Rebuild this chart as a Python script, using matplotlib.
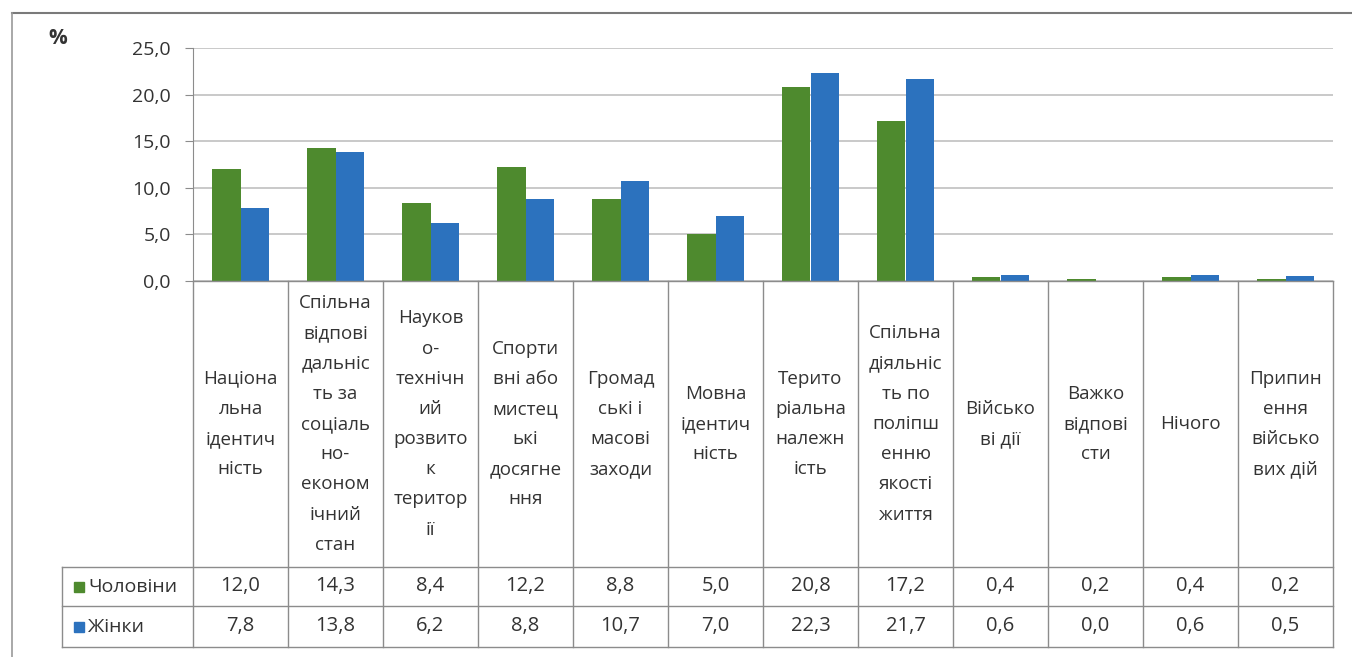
import matplotlib.pyplot as plt
from matplotlib.patches import Rectangle

plt.rcParams['font.family'] = ['Open Sans', 'DejaVu Sans']

categories = [
    "Націона\nльна\nідентич\nність",
    "Спільна\nвідпові\nдальніс\nть за\nсоціаль\nно-\nеконом\nічний\nстан",
    "Науков\nо-\nтехнічн\nий\nрозвито\nк\nтеритор\nії",
    "Спорти\nвні або\nмистец\nькі\nдосягне\nння",
    "Громад\nські і\nмасові\nзаходи",
    "Мовна\nідентич\nність",
    "Терито\nріальна\nналежн\nість",
    "Спільна\nдіяльніс\nть по\nполіпш\nенню\nякості\nжиття",
    "Військо\nві дії",
    "Важко\nвідпові\nсти",
    "Нічого",
    "Припин\nення\nвійсько\nвих дій",
]
men = [12.0, 14.3, 8.4, 12.2, 8.8, 5.0, 20.8, 17.2, 0.4, 0.2, 0.4, 0.2]
women = [7.8, 13.8, 6.2, 8.8, 10.7, 7.0, 22.3, 21.7, 0.6, 0.0, 0.6, 0.5]
series_names = ["Чоловіни", "Жінки"]
yticks = [0, 5, 10, 15, 20, 25]

GREEN = "#4e8a2e"
BLUE = "#2c72be"
GRID = "#c0c0c0"
LINE = "#8c8c8c"
TXT = "#333333"

W, H = 1352, 657
fig = plt.figure(figsize=(W / 100, H / 100), dpi=100)


def fx(px):
    return px / W


def fy(py):
    return 1 - py / H


def fmt(v):
    return f"{v:.1f}".replace(".", ",")


# plot area in pixel coordinates
x0, x1 = 193, 1333
y_top, y_zero = 48, 281
ax = fig.add_axes([fx(x0), fy(y_zero), fx(x1) - fx(x0), fy(y_top) - fy(y_zero)])
n = len(categories)
xs = list(range(n))
bw = 0.3
ax.bar([x - bw / 2 for x in xs], men, width=bw, color=GREEN, zorder=3)
ax.bar([x + bw / 2 for x in xs], women, width=bw, color=BLUE, zorder=3)
ax.set_xlim(-0.5, n - 0.5)
ax.set_ylim(0, 25)
ax.set_yticks(yticks)
ax.set_yticklabels([fmt(v) for v in yticks], fontsize=14, color=TXT)
ax.tick_params(axis='y', length=6, color=LINE, pad=10)
ax.set_xticks([])
ax.grid(axis='y', color=GRID, linewidth=1.2, zorder=0)
for s in ['top', 'right', 'bottom']:
    ax.spines[s].set_visible(False)
ax.spines['left'].set_color(LINE)

# frame around the chart
fig.add_artist(plt.Line2D([fx(12), fx(1352)], [fy(13), fy(13)], color="#7a7a7a", lw=1.5))
fig.add_artist(plt.Line2D([fx(12), fx(12)], [fy(13), fy(657)], color="#9a9a9a", lw=1.2))

fig.text(fx(58), fy(39), "%", fontsize=15, fontweight='bold', color="#333333",
         ha='center', va='center')

# data table under the axis
col_w = (x1 - x0) / n
row1, row2, row3 = 567, 606, 647
tab_left = 62
for i in range(n + 1):
    xp = x0 + i * col_w
    fig.add_artist(plt.Line2D([fx(xp), fx(xp)], [fy(y_zero), fy(row3)], color=LINE, lw=1))
fig.add_artist(plt.Line2D([fx(x0), fx(x1)], [fy(y_zero), fy(y_zero)], color=LINE, lw=1))
for r in (row1, row2, row3):
    fig.add_artist(plt.Line2D([fx(tab_left), fx(x1)], [fy(r), fy(r)], color=LINE, lw=1))
fig.add_artist(plt.Line2D([fx(tab_left), fx(tab_left)], [fy(row1), fy(row3)], color=LINE, lw=1))

for i, label in enumerate(categories):
    xc = x0 + (i + 0.5) * col_w
    fig.text(fx(xc), fy((y_zero + row1) / 2), label, fontsize=13.5, color=TXT,
             ha='center', va='center', linespacing=1.87)
    fig.text(fx(xc), fy((row1 + row2) / 2), fmt(men[i]),
             fontsize=14.5, color=TXT, ha='center', va='center')
    fig.text(fx(xc), fy((row2 + row3) / 2), fmt(women[i]),
             fontsize=14.5, color=TXT, ha='center', va='center')

for (r_top, r_bot), name, col in zip([(row1, row2), (row2, row3)], series_names, [GREEN, BLUE]):
    yc = (r_top + r_bot) / 2
    fig.add_artist(Rectangle((fx(74), fy(yc + 5)), fx(10), fy(0) - fy(10), color=col))
    fig.text(fx(88), fy(yc), name, fontsize=14, color=TXT, ha='left', va='center')

fig.savefig("out.png", dpi=100)
